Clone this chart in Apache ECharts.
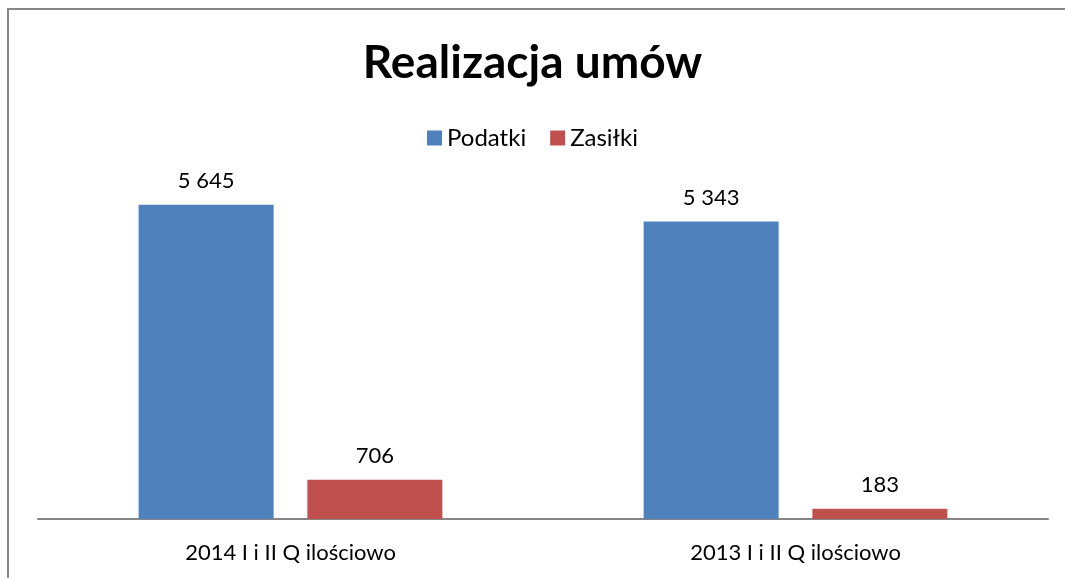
<!DOCTYPE html>
<html>
<head>
<meta charset="utf-8">
<script src="https://cdn.jsdelivr.net/npm/echarts@6/dist/echarts.min.js"></script>
<style>
  html, body { margin: 0; padding: 0; background: #fff; }
  #chart { width: 1065px; height: 578px; }
</style>
</head>
<body>
<div id="chart"></div>
<script>
// dane wykresu
const categories = ['2014 I i II Q ilościowo', '2013 I i II Q ilościowo'];
const podatki = [5645, 5343];
const zasilki = [706, 183];
const seriesNames = ['Podatki', 'Zasiłki'];

const FONT = 'Lato, "Open Sans", sans-serif';

// format "5 645"
function fmt(v) {
    return String(v).replace(/\B(?=(\d{3})+(?!\d))/g, ' ');
}

const chart = echarts.init(document.getElementById('chart'));

const option = {
    animation: false,
    backgroundColor: '#fff',
    title: {
        text: 'Realizacja umów',
        left: 'center',
        top: 35,
        textStyle: { fontFamily: FONT, fontSize: 46, fontWeight: 'bold', color: '#000' }
    },
    legend: {
        data: seriesNames,
        top: 121,
        left: 'center',
        itemWidth: 15,
        itemHeight: 15,
        itemGap: 24,
        icon: 'rect',
        textStyle: { fontFamily: FONT, fontSize: 24, color: '#000' }
    },
    grid: { left: 38, right: 17, top: 185, bottom: 59, containLabel: false },
    xAxis: {
        type: 'category',
        data: categories,
        axisLine: { lineStyle: { color: '#868686', width: 2 } },
        axisTick: { show: false },
        axisLabel: { fontFamily: FONT, fontSize: 22, color: '#000', margin: 23 }
    },
    yAxis: {
        type: 'value',
        min: 0,
        max: 6000,
        show: false,
        splitLine: { show: false }
    },
    series: [
        {
            name: seriesNames[0],
            type: 'bar',
            data: podatki,
            barWidth: 135,
            barGap: '25%',
            itemStyle: { color: '#4f81bd' },
            label: {
                show: true, position: 'top', distance: 13,
                fontFamily: FONT, fontSize: 22, color: '#000',
                formatter: p => fmt(p.value)
            }
        },
        {
            name: seriesNames[1],
            type: 'bar',
            data: zasilki,
            barWidth: 135,
            barGap: '25%',
            itemStyle: { color: '#c0504d' },
            label: {
                show: true, position: 'top', distance: 13,
                fontFamily: FONT, fontSize: 22, color: '#000',
                formatter: p => fmt(p.value)
            }
        }
    ],
    graphic: [
        {
            type: 'polyline',
            shape: { points: [[8, 578], [8, 9], [1065, 9]] },
            style: { stroke: '#868686', lineWidth: 2, fill: null },
            silent: true
        }
    ]
};

chart.setOption(option);
</script>
</body>
</html>
